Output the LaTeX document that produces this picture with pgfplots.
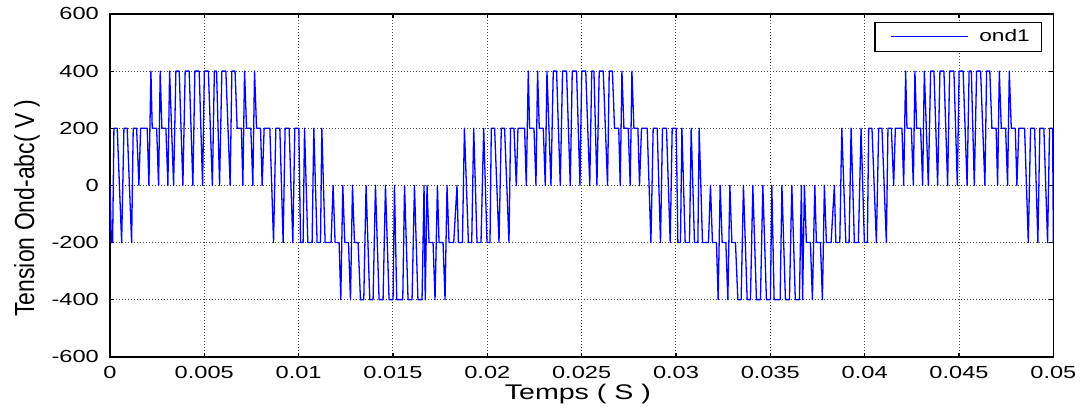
\documentclass[border=0pt]{standalone}
\usepackage{fontspec}
\setmainfont{Liberation Sans}
\newfontfamily\widefont[FakeStretch=1.35]{Liberation Sans}
\usepackage{graphicx}
\usepackage{pgfplots}
\pgfplotsset{compat=1.18}

\pgfplotstableread{
t v
0 0
0.000079 -200
0.000143 -200
0.000212 200
0.000387 200
0.000620 -200
0.000742 200
0.000916 200
0.001149 -200
0.001234 200
0.001414 200
0.001536 0
0.001626 200
0.001976 200
0.002066 0
0.002172 400
0.002241 200
0.002474 200
0.002579 0
0.002664 400
0.002754 200
0.002966 200
0.003072 0
0.003162 400
0.003374 0
0.003496 400
0.003671 400
0.003867 0
0.003988 400
0.004200 400
0.004396 0
0.004502 400
0.004730 400
0.004910 0
0.005005 400
0.005217 400
0.005429 0
0.005535 400
0.005652 400
0.005810 0
0.005932 400
0.006144 400
0.006372 0
0.006462 400
0.006631 400
0.006743 200
0.006965 200
0.007045 0
0.007135 400
0.007241 200
0.007468 200
0.007574 0
0.007664 400
0.007770 200
0.007982 200
0.008067 0
0.008173 200
0.008475 200
0.008671 -200
0.008792 200
0.009004 200
0.009179 -200
0.009285 200
0.009497 200
0.009693 -200
0.009799 200
0.010011 200
0.010101 -200
0.010238 -200
0.010313 200
0.010487 -200
0.010715 -200
0.010805 200
0.010980 -200
0.011160 -200
0.011229 200
0.011404 -200
0.011721 -200
0.011827 0
0.011933 -200
0.012145 -200
0.012235 -400
0.012341 0
0.012447 -200
0.012643 -200
0.012749 -400
0.012855 0
0.012961 -200
0.013152 -200
0.013279 -400
0.013453 -400
0.013575 0
0.013771 -400
0.013946 -400
0.014073 0
0.014264 -400
0.014476 -400
0.014603 0
0.014793 -400
0.015005 -400
0.015079 0
0.015201 -400
0.015519 -400
0.015614 0
0.015800 -400
0.016012 -400
0.016139 0
0.016324 -400
0.016541 -400
0.016647 0
0.016711 -400
0.016806 0
0.016912 -200
0.017124 -200
0.017230 -400
0.017357 0
0.017442 -200
0.017654 -200
0.017760 -400
0.017865 0
0.017971 -200
0.018220 -200
0.018395 0
0.018469 -200
0.018681 -200
0.018787 200
0.018999 -200
0.019174 -200
0.019280 200
0.019454 -200
0.019666 -200
0.019809 200
0.019984 -200
0.020079 -200
0.020143 -200
0.020212 200
0.020387 200
0.020620 -200
0.020742 200
0.020916 200
0.021149 -200
0.021234 200
0.021414 200
0.021536 0
0.021626 200
0.021976 200
0.022066 0
0.022172 400
0.022241 200
0.022474 200
0.022579 0
0.022664 400
0.022754 200
0.022966 200
0.023072 0
0.023162 400
0.023374 0
0.023496 400
0.023671 400
0.023867 0
0.023988 400
0.024200 400
0.024396 0
0.024502 400
0.024730 400
0.024910 0
0.025005 400
0.025217 400
0.025429 0
0.025535 400
0.025652 400
0.025810 0
0.025932 400
0.026144 400
0.026372 0
0.026462 400
0.026631 400
0.026743 200
0.026965 200
0.027045 0
0.027135 400
0.027241 200
0.027468 200
0.027574 0
0.027664 400
0.027770 200
0.027982 200
0.028067 0
0.028173 200
0.028475 200
0.028671 -200
0.028792 200
0.029004 200
0.029179 -200
0.029285 200
0.029497 200
0.029693 -200
0.029799 200
0.030011 200
0.030101 -200
0.030238 -200
0.030313 200
0.030487 -200
0.030715 -200
0.030805 200
0.030980 -200
0.031160 -200
0.031229 200
0.031404 -200
0.031721 -200
0.031827 0
0.031933 -200
0.032145 -200
0.032235 -400
0.032341 0
0.032447 -200
0.032643 -200
0.032749 -400
0.032855 0
0.032961 -200
0.033152 -200
0.033279 -400
0.033453 -400
0.033575 0
0.033771 -400
0.033946 -400
0.034073 0
0.034264 -400
0.034476 -400
0.034603 0
0.034793 -400
0.035005 -400
0.035079 0
0.035201 -400
0.035519 -400
0.035614 0
0.035800 -400
0.036012 -400
0.036139 0
0.036324 -400
0.036541 -400
0.036647 0
0.036711 -400
0.036806 0
0.036912 -200
0.037124 -200
0.037230 -400
0.037357 0
0.037442 -200
0.037654 -200
0.037760 -400
0.037865 0
0.037971 -200
0.038220 -200
0.038395 0
0.038469 -200
0.038681 -200
0.038787 200
0.038999 -200
0.039174 -200
0.039280 200
0.039454 -200
0.039666 -200
0.039809 200
0.039984 -200
0.040079 -200
0.040143 -200
0.040212 200
0.040387 200
0.040620 -200
0.040742 200
0.040916 200
0.041149 -200
0.041234 200
0.041414 200
0.041536 0
0.041626 200
0.041976 200
0.042066 0
0.042172 400
0.042241 200
0.042474 200
0.042579 0
0.042664 400
0.042754 200
0.042966 200
0.043072 0
0.043162 400
0.043374 0
0.043496 400
0.043671 400
0.043867 0
0.043988 400
0.044200 400
0.044396 0
0.044502 400
0.044730 400
0.044910 0
0.045005 400
0.045217 400
0.045429 0
0.045535 400
0.045652 400
0.045810 0
0.045932 400
0.046144 400
0.046372 0
0.046462 400
0.046631 400
0.046743 200
0.046965 200
0.047045 0
0.047135 400
0.047241 200
0.047468 200
0.047574 0
0.047664 400
0.047770 200
0.047982 200
0.048067 0
0.048173 200
0.048475 200
0.048671 -200
0.048792 200
0.049004 200
0.049179 -200
0.049285 200
0.049497 200
0.049693 -200
0.049799 200
0.049960 200
0.050000 -200
}\ondtable

\begin{document}
\begin{tikzpicture}
\begin{axis}[
    width=472pt, height=171.5pt, scale only axis,
    xmin=0, xmax=0.05, ymin=-600, ymax=600,
    xtick={0,0.005,0.01,0.015,0.02,0.025,0.03,0.035,0.04,0.045,0.05},
    xticklabels={0,0.005,0.01,0.015,0.02,0.025,0.03,0.035,0.04,0.045,0.05},
    ytick={-600,-400,-200,0,200,400,600},
    yticklabels={-600,-400,-200,0,200,400,600},
    scaled ticks=false,
    tick align=inside,
    major tick length=2pt,
    tick style={black, line width=0.6pt},
    axis line style={black, line width=0.8pt},
    grid=major,
    major grid style={black!70, dash pattern=on 0.5pt off 1pt, line width=0.5pt},
    ticklabel style={font=\widefont\fontsize{8.75}{10}\selectfont},
    yticklabel style={xshift=-2pt},
    xticklabel style={yshift=-1pt},
    xlabel={Temps ( S )},
    xlabel style={at={(axis description cs:0.496,-0.108)}, anchor=center,
        font=\widefont\fontsize{10.6}{12}\selectfont},
    ylabel={\scalebox{1}[1.2]{Tension Ond-abc( V )}},
    ylabel style={at={(axis description cs:-0.0879,0.434)}, anchor=center,
        font=\fontsize{11.5}{13}\selectfont},
    legend style={at={(axis description cs:0.9883,0.9776)}, anchor=north east,
        draw=black, line width=0.6pt, fill=white,
        inner xsep=6pt, inner ysep=3.5pt,
        nodes={inner sep=0pt}, column sep=5.5pt,
        font=\widefont\fontsize{8.4}{9}\selectfont},
    legend image code/.code={\path (-1.5pt,0pt); \draw[#1] (0pt,0pt) -- (38.5pt,0pt);},
]
\addplot[blue, line width=0.65pt, line join=round] table[x=t, y=v] {\ondtable};
\addlegendentry{ond1}
\end{axis}
\path ([shift={(-55pt,-25pt)}]current axis.south west)
      ([shift={(14.5pt,7pt)}]current axis.north east);
\end{tikzpicture}
\end{document}
